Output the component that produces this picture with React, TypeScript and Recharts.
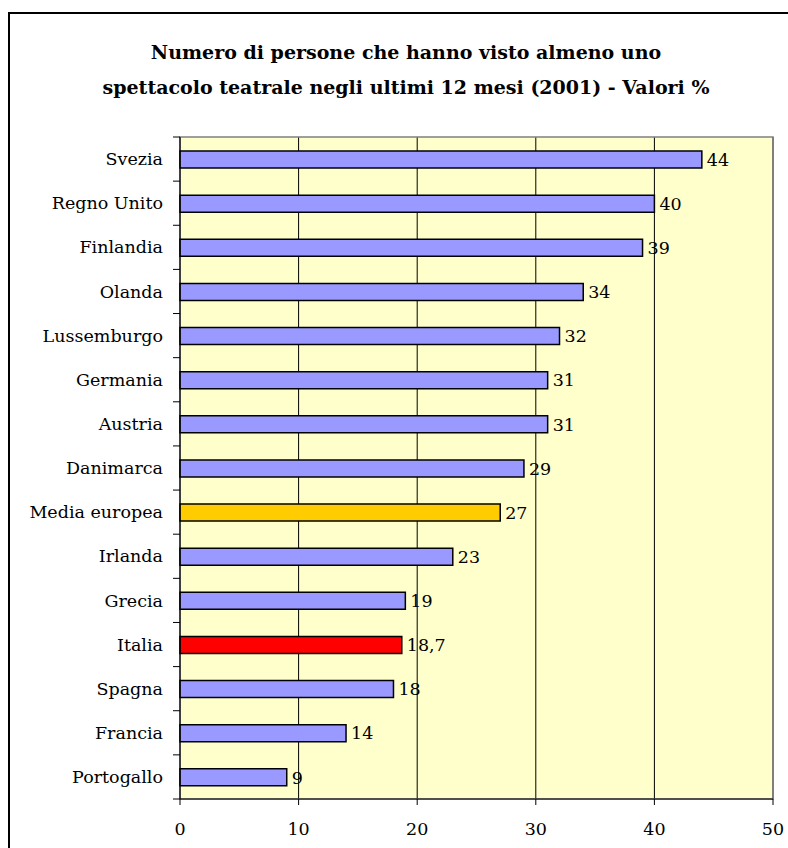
import React from 'react'
import {
  BarChart,
  Bar,
  XAxis,
  YAxis,
  CartesianGrid,
  Cell,
  LabelList,
  ReferenceArea,
} from 'recharts'

const categories = [
  'Svezia',
  'Regno Unito',
  'Finlandia',
  'Olanda',
  'Lussemburgo',
  'Germania',
  'Austria',
  'Danimarca',
  'Media europea',
  'Irlanda',
  'Grecia',
  'Italia',
  'Spagna',
  'Francia',
  'Portogallo',
]
const values = [44, 40, 39, 34, 32, 31, 31, 29, 27, 23, 19, 18.7, 18, 14, 9]
const xTicks = [0, 10, 20, 30, 40, 50]

const titleLines = [
  'Numero di persone che hanno visto almeno uno',
  'spettacolo teatrale negli ultimi 12 mesi (2001) - Valori %',
]

const data = categories.map((name, i) => ({ name, value: values[i] }))

const FONT = "'DejaVu Serif', 'Liberation Serif', serif"
const W = 788
const H = 848
const MARGIN = { top: 137, right: 15, bottom: 9, left: 8 }
const X_AXIS_H = 40
const BAND = (H - MARGIN.top - MARGIN.bottom - X_AXIS_H) / categories.length
const LABEL_SIZE = 17.5

const highlight: Record<string, string> = {
  'Media europea': '#FFCC00',
  Italia: '#FF0000',
}

function formatValue(v: number): string {
  return String(v).replace('.', ',')
}

function CategoryTick(props: any) {
  const { x, y, payload, index } = props
  const half = BAND / 2
  return (
    <g>
      <line x1={x - 7} x2={x} y1={y - half} y2={y - half} stroke="#000" />
      {index === categories.length - 1 && (
        <line x1={x - 7} x2={x} y1={y + half} y2={y + half} stroke="#000" />
      )}
      <text
        x={x - 17}
        y={y}
        dy="0.35em"
        textAnchor="end"
        fontSize={LABEL_SIZE}
        fontFamily={FONT}
        fill="#000"
      >
        {payload.value}
      </text>
    </g>
  )
}

export default function App() {
  return (
    <div
      style={{
        position: 'absolute',
        left: 0,
        top: 0,
        width: W,
        height: H,
        overflow: 'hidden',
        background: '#fff',
      }}
    >
      <div
        style={{
          position: 'absolute',
          left: 8,
          top: 12,
          width: 820,
          height: 870,
          border: '2px solid #000',
        }}
      />
      <div
        style={{
          position: 'absolute',
          left: 6,
          width: 800,
          top: 35,
          textAlign: 'center',
          fontFamily: FONT,
          fontWeight: 'bold',
          fontSize: 19,
          lineHeight: '35px',
          color: '#000',
        }}
      >
        {titleLines.map((t) => (
          <div key={t}>{t}</div>
        ))}
      </div>
      <div style={{ position: 'absolute', left: 0, top: 0 }}>
        <BarChart
          width={W}
          height={H}
          data={data}
          layout="vertical"
          margin={MARGIN}
          barCategoryGap={0}
        >
          <CartesianGrid
            horizontal={false}
            stroke="#000"
            fill="#FFFFCC"
            fillOpacity={1}
          />
          <ReferenceArea x1={0} x2={50} fill="none" stroke="#808080" strokeWidth={1.5} />
          <XAxis
            type="number"
            domain={[0, 50]}
            ticks={xTicks}
            height={X_AXIS_H}
            tickSize={6}
            tickMargin={18}
            axisLine={{ stroke: '#000' }}
            tickLine={{ stroke: '#000' }}
            tick={{ fontSize: LABEL_SIZE, fontFamily: FONT, fill: '#000' }}
          />
          <YAxis
            type="category"
            dataKey="name"
            width={172}
            tickSize={0}
            tickMargin={0}
            tickLine={false}
            axisLine={{ stroke: '#000' }}
            interval={0}
            tick={(p: any) => <CategoryTick {...p} />}
          />
          <Bar
            dataKey="value"
            barSize={17}
            stroke="#000"
            strokeWidth={1.5}
            isAnimationActive={false}
          >
            {data.map((d) => (
              <Cell key={d.name} fill={highlight[d.name] ?? '#9999FF'} />
            ))}
            <LabelList
              dataKey="value"
              position="right"
              offset={5}
              formatter={(v: any) => formatValue(Number(v))}
              style={{ fontSize: LABEL_SIZE, fontFamily: FONT, fill: '#000' }}
            />
          </Bar>
        </BarChart>
      </div>
    </div>
  )
}
